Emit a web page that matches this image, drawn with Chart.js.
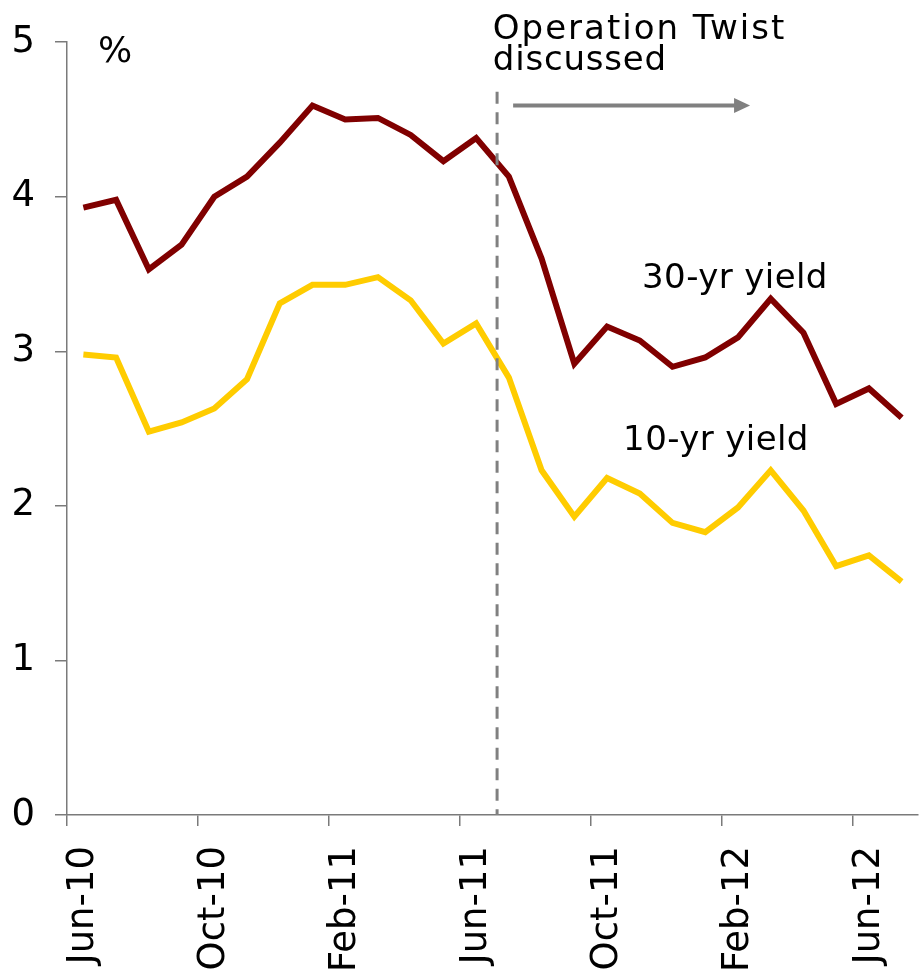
<!DOCTYPE html>
<html>
<head>
<meta charset="utf-8">
<script src="https://cdn.jsdelivr.net/npm/chart.js@4"></script>
<style>
  html, body { margin: 0; padding: 0; background: #fff; }
  #wrap { width: 923px; height: 972px; position: relative; }
</style>
</head>
<body>
<div id="wrap"><canvas id="yields"></canvas></div>
<script>
const months = [
  'Jun-10', 'Jul-10', 'Aug-10', 'Sep-10', 'Oct-10', 'Nov-10', 'Dec-10',
  'Jan-11', 'Feb-11', 'Mar-11', 'Apr-11', 'May-11', 'Jun-11', 'Jul-11',
  'Aug-11', 'Sep-11', 'Oct-11', 'Nov-11', 'Dec-11', 'Jan-12', 'Feb-12',
  'Mar-12', 'Apr-12', 'May-12', 'Jun-12', 'Jul-12'
];
const yield30 = [
  3.93, 3.98, 3.53, 3.69, 4.00, 4.13, 4.35, 4.59, 4.50, 4.51, 4.40, 4.23, 4.38,
  4.13, 3.60, 2.92, 3.16, 3.07, 2.90, 2.96, 3.09, 3.34, 3.12, 2.66, 2.76, 2.57
];
const yield10 = [
  2.98, 2.96, 2.48, 2.54, 2.63, 2.82, 3.31, 3.43, 3.43, 3.48, 3.33, 3.05, 3.18,
  2.83, 2.23, 1.93, 2.18, 2.08, 1.89, 1.83, 1.99, 2.23, 1.97, 1.61, 1.68, 1.51
];
const yTicks = [0, 1, 2, 3, 4, 5];
const labelEvery = 4;

// where Operation Twist talk started (fractional month index)
const twistAt = 12.64;

const AXIS = '#7a7a7a';
const FONT = "'DejaVu Sans', Verdana, sans-serif";

function label(ctx, text, x, y, spacing) {
  ctx.letterSpacing = spacing + 'px';
  ctx.fillText(text, x, y);
}

const notes = {
  id: 'notes',
  afterDatasetsDraw(chart) {
    const { ctx } = chart;
    const x = chart.scales.x, y = chart.scales.y;

    // dashed marker
    ctx.save();
    ctx.strokeStyle = '#808080';
    ctx.lineWidth = 3;
    ctx.setLineDash([12, 8.5]);
    ctx.beginPath();
    ctx.moveTo(x.getPixelForValue(twistAt), y.getPixelForValue(4.68));
    ctx.lineTo(x.getPixelForValue(twistAt), y.getPixelForValue(0));
    ctx.stroke();
    ctx.restore();

    // arrow pointing forward in time
    const ay = y.getPixelForValue(4.59);
    const ax0 = x.getPixelForValue(13.13), ax1 = x.getPixelForValue(20.37);
    ctx.save();
    ctx.strokeStyle = '#808080';
    ctx.fillStyle = '#808080';
    ctx.lineWidth = 4;
    ctx.beginPath();
    ctx.moveTo(ax0, ay);
    ctx.lineTo(ax1 - 14, ay);
    ctx.stroke();
    ctx.beginPath();
    ctx.moveTo(ax1, ay);
    ctx.lineTo(ax1 - 16, ay - 7.5);
    ctx.lineTo(ax1 - 16, ay + 7.5);
    ctx.closePath();
    ctx.fill();
    ctx.restore();

    ctx.save();
    ctx.fillStyle = '#000';
    ctx.font = '34px ' + FONT;
    ctx.textAlign = 'left';
    ctx.textBaseline = 'alphabetic';
    label(ctx, 'Operation Twist', x.getPixelForValue(12.51), y.getPixelForValue(5.02), 2);
    label(ctx, 'discussed', x.getPixelForValue(12.51), y.getPixelForValue(4.82), 0.8);
    label(ctx, '30-yr yield', x.getPixelForValue(17.07), y.getPixelForValue(3.41), 0.4);
    label(ctx, '10-yr yield', x.getPixelForValue(16.49), y.getPixelForValue(2.36), 0.4);
    ctx.font = '36px ' + FONT;
    label(ctx, '%', x.getPixelForValue(0.45), y.getPixelForValue(4.87), 0);
    ctx.restore();
  }
};

new Chart(document.getElementById('yields'), {
  type: 'line',
  data: {
    labels: months,
    datasets: [
      { label: '30-yr yield', data: yield30, borderColor: '#800000', borderWidth: 6, pointRadius: 0, tension: 0 },
      { label: '10-yr yield', data: yield10, borderColor: '#ffcc00', borderWidth: 6, pointRadius: 0, tension: 0 }
    ]
  },
  options: {
    responsive: true,
    maintainAspectRatio: false,
    animation: false,
    layout: { padding: { left: 12, right: 5, top: 20, bottom: 0 } },
    plugins: { legend: { display: false }, tooltip: { enabled: false } },
    scales: {
      x: {
        offset: true,
        afterFit: s => { s.paddingLeft = 0; s.paddingRight = 0; s.height = 157; },
        grid: {
          offset: true,
          drawOnChartArea: false,
          tickLength: 11,
          lineWidth: 1.5,
          color: c => (c.index % labelEvery === 0 && c.index < months.length) ? AXIS : 'rgba(0,0,0,0)'
        },
        border: { color: AXIS, width: 1.5 },
        ticks: {
          autoSkip: false,
          minRotation: 90,
          maxRotation: 90,
          padding: 20,
          color: '#000',
          font: { family: FONT, size: 37 },
          callback: (v, i) => i % labelEvery === 0 ? months[i] : ''
        }
      },
      y: {
        min: yTicks[0],
        max: yTicks[yTicks.length - 1],
        afterBuildTicks: s => { s.ticks = yTicks.map(v => ({ value: v })); },
        afterFit: s => { s.width = 55; },
        grid: { drawOnChartArea: false, tickLength: 12, lineWidth: 1.5, color: AXIS },
        border: { color: AXIS, width: 1.5 },
        ticks: { padding: 20, color: '#000', font: { family: FONT, size: 37 } }
      }
    }
  },
  plugins: [notes]
});
</script>
</body>
</html>
